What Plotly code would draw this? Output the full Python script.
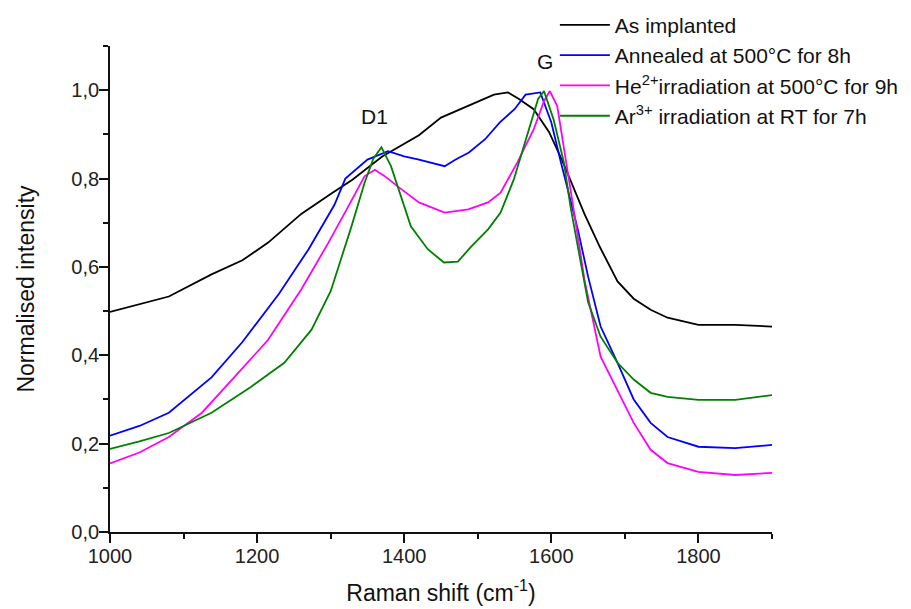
import plotly.graph_objects as go

# ---- data ----
implanted_x = [1000, 1040, 1080, 1138, 1180, 1215, 1260, 1300, 1330, 1370, 1420, 1450, 1487,
               1522, 1541, 1556, 1576, 1597, 1615, 1630, 1645, 1666, 1690, 1712, 1735, 1758,
               1800, 1850, 1900]
implanted_y = [0.498, 0.515, 0.533, 0.583, 0.615, 0.655, 0.720, 0.765, 0.798, 0.850, 0.898,
               0.938, 0.964, 0.990, 0.995, 0.980, 0.957, 0.905, 0.840, 0.780, 0.720, 0.645,
               0.567, 0.528, 0.503, 0.485, 0.469, 0.469, 0.465]

annealed_x = [1000, 1040, 1080, 1138, 1180, 1230, 1270, 1305, 1320, 1350, 1378, 1400, 1420,
              1455, 1470, 1488, 1510, 1530, 1550, 1565, 1585, 1600, 1613, 1622, 1636, 1650,
              1667, 1690, 1712, 1735, 1758, 1800, 1850, 1900]
annealed_y = [0.218, 0.240, 0.270, 0.350, 0.430, 0.540, 0.640, 0.740, 0.800, 0.843, 0.862,
              0.850, 0.843, 0.828, 0.843, 0.859, 0.889, 0.927, 0.957, 0.990, 0.995, 0.927,
              0.837, 0.780, 0.685, 0.578, 0.465, 0.383, 0.300, 0.247, 0.215, 0.193, 0.190,
              0.197]

he_x = [1000, 1040, 1080, 1125, 1170, 1215, 1260, 1297, 1324, 1346, 1360, 1373, 1396, 1420,
        1455, 1487, 1514, 1531, 1554, 1576, 1590, 1598, 1608, 1617, 1626, 1636, 1645, 1667,
        1690, 1712, 1735, 1758, 1800, 1850, 1900]
he_y = [0.155, 0.180, 0.215, 0.270, 0.352, 0.435, 0.549, 0.655, 0.737, 0.805, 0.820, 0.806,
        0.776, 0.746, 0.723, 0.730, 0.746, 0.768, 0.837, 0.911, 0.975, 0.998, 0.964, 0.873,
        0.776, 0.669, 0.571, 0.397, 0.322, 0.247, 0.186, 0.156, 0.136, 0.129, 0.134]

ar_x = [1000, 1040, 1080, 1138, 1192, 1237, 1274, 1300, 1328, 1346, 1358, 1369, 1382, 1396,
        1409, 1432, 1454, 1473, 1491, 1514, 1531, 1549, 1568, 1582, 1590, 1603, 1617, 1626,
        1636, 1650, 1667, 1690, 1712, 1735, 1758, 1800, 1850, 1900]
ar_y = [0.188, 0.205, 0.224, 0.270, 0.329, 0.383, 0.458, 0.545, 0.690, 0.790, 0.845, 0.871,
        0.828, 0.760, 0.692, 0.640, 0.610, 0.612, 0.646, 0.685, 0.723, 0.798, 0.905, 0.980,
        0.998, 0.934, 0.837, 0.737, 0.646, 0.520, 0.442, 0.383, 0.345, 0.315, 0.306, 0.299,
        0.299, 0.310]

series_names = ["As implanted",
                "Annealed at 500°C for 8h",
                "He<sup>2+</sup>irradiation at 500°C for 9h",
                "Ar<sup>3+</sup> irradiation at RT for 7h"]
series_colors = ["#000000", "#0000ff", "#ff00ff", "#008000"]

x_tickvals = [1000, 1200, 1400, 1600, 1800]
y_tickvals = [0.0, 0.2, 0.4, 0.6, 0.8, 1.0]
y_ticktext = ["0,0", "0,2", "0,4", "0,6", "0,8", "1,0"]

peak_labels = ["D1", "G"]
peak_x = [1360, 1591]
peak_y = [0.941, 1.066]

FONT = "Arial, Liberation Sans, sans-serif"

fig = go.Figure()
for xs, ys, name, col in zip([implanted_x, annealed_x, he_x, ar_x],
                             [implanted_y, annealed_y, he_y, ar_y],
                             series_names, series_colors):
    fig.add_trace(go.Scatter(x=xs, y=ys, mode="lines", name=name,
                             line=dict(color=col, width=1.8)))

for t, xv, yv in zip(peak_labels, peak_x, peak_y):
    fig.add_annotation(x=xv, y=yv, text=t, showarrow=False,
                       font=dict(family=FONT, size=21, color="#111111"))

axis_common = dict(showline=True, linecolor="#111111", linewidth=1.8,
                   ticks="outside", ticklen=9, tickwidth=1.8, tickcolor="#111111",
                   showgrid=False, zeroline=False, mirror=False, automargin=False,
                   ticklabelstandoff=-4,
                   tickfont=dict(family=FONT, size=20, color="#222222"))

fig.update_layout(
    width=911, height=609,
    margin=dict(l=102, r=147, t=38, b=85, autoexpand=False),
    paper_bgcolor="white", plot_bgcolor="white",
    font=dict(family=FONT, color="#111111"),
    showlegend=True,
    legend=dict(x=0.672, y=1.085, xanchor="left", yanchor="top",
                bgcolor="rgba(0,0,0,0)", font=dict(family=FONT, size=21, color="#111111"),
                itemwidth=50, tracegroupgap=0),
    xaxis=dict(range=[1000, 1900], tickvals=x_tickvals,
               minor=dict(dtick=100, ticklen=5, tickwidth=1.8, tickcolor="#111111",
                          ticks="outside"),
               title=dict(text="Raman shift (cm<sup>-1</sup>)", standoff=19,
                          font=dict(family=FONT, size=23, color="#111111")),
               **axis_common),
    yaxis=dict(range=[0, 1.1], tickvals=y_tickvals, ticktext=y_ticktext,
               minor=dict(dtick=0.1, tick0=0, ticklen=5, tickwidth=1.8,
                          tickcolor="#111111", ticks="outside"),
               title=dict(text="Normalised intensity", standoff=30,
                          font=dict(family=FONT, size=23, color="#111111")),
               **axis_common),
)

fig.write_html("out.html")
